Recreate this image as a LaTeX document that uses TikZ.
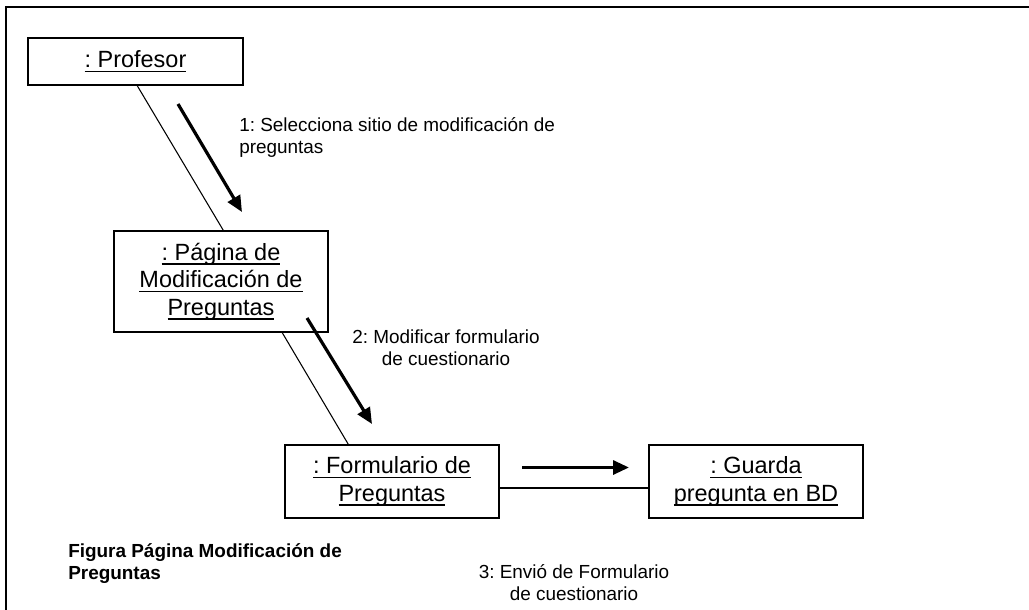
\documentclass[tikz,border=0pt]{standalone}
\usepackage{fontspec}
\setmainfont{Liberation Sans}
\usetikzlibrary{arrows.meta,calc}
\newsavebox{\myulbox}
\newcommand{\myul}[1]{\sbox{\myulbox}{#1}\rlap{\rule[-3.3pt]{\wd\myulbox}{1.1pt}}\usebox{\myulbox}}
\frenchspacing
\begin{document}
\frenchspacing
\begin{tikzpicture}[x=0.75pt,y=-0.75pt,
  obj/.style={draw,line width=1.1pt,rectangle,inner sep=0pt,minimum width=160.5pt,align=center,
    font=\fontsize{17.6pt}{20.6pt}\selectfont},
  lbl/.style={inner sep=0pt,font=\fontsize{14.2pt}{16.5pt}\selectfont},
  link/.style={line width=0.8pt},
  msg/.style={line width=2.4pt,-{Triangle[length=12pt,width=10.5pt]}}]
\useasboundingbox (0,0) rectangle (1029,610);
\draw[line width=1.9pt] (1029,7) -- (6,7) -- (6,610);

\node[obj,minimum width=161.25pt,minimum height=35.25pt] (prof) at (135.5,61.5) {\myul{: Profesor}};
\node[obj,minimum height=75.75pt] (pag) at (221,281.5) {\myul{: Página de}\\\myul{Modificación de}\\\myul{Preguntas}};
\node[obj,minimum height=54.75pt] (form) at (392,481.5) {\myul{: Formulario de}\\\myul{Preguntas}};
\node[obj,minimum height=54.75pt] (bd) at (756,481.5) {\myul{: Guarda}\\\myul{pregunta en BD}};

\draw[link] ($(prof.south west)+(110,0)$) -- ($(pag.north west)+(110,0)$);
\draw[link] ($(pag.south west)+(169,0)$) -- ($(form.north west)+(64,0)$);
\draw[link] ($(form.east)+(0,6.5)$) -- ($(bd.west)+(0,6.5)$);

\coordinate (m1a) at (178,104); \coordinate (m1b) at (242,212);
\coordinate (m2a) at (307,318); \coordinate (m2b) at (372,424);
\coordinate (m3a) at (522,467.5); \coordinate (m3b) at (629,467.5);
\draw[msg] (m1a) -- (m1b);
\draw[msg] (m2a) -- (m2b);
\draw[msg] (m3a) -- (m3b);

\node[lbl,anchor=base west,align=left] (l1) at (239,153) {1: Selecciona sitio de modificación de\\preguntas};
\node[lbl,anchor=base,align=center] (l2) at (446,365) {2: Modificar formulario\\de cuestionario};
\node[lbl,anchor=base,align=center] (l3) at (574,600) {3: Envió de Formulario\\de cuestionario};
\node[lbl,anchor=base west,align=left,font=\fontsize{14.2pt}{16.5pt}\selectfont\bfseries] (cap) at (68,579) {Figura Página Modificación de\\Preguntas};
\end{tikzpicture}
\end{document}
